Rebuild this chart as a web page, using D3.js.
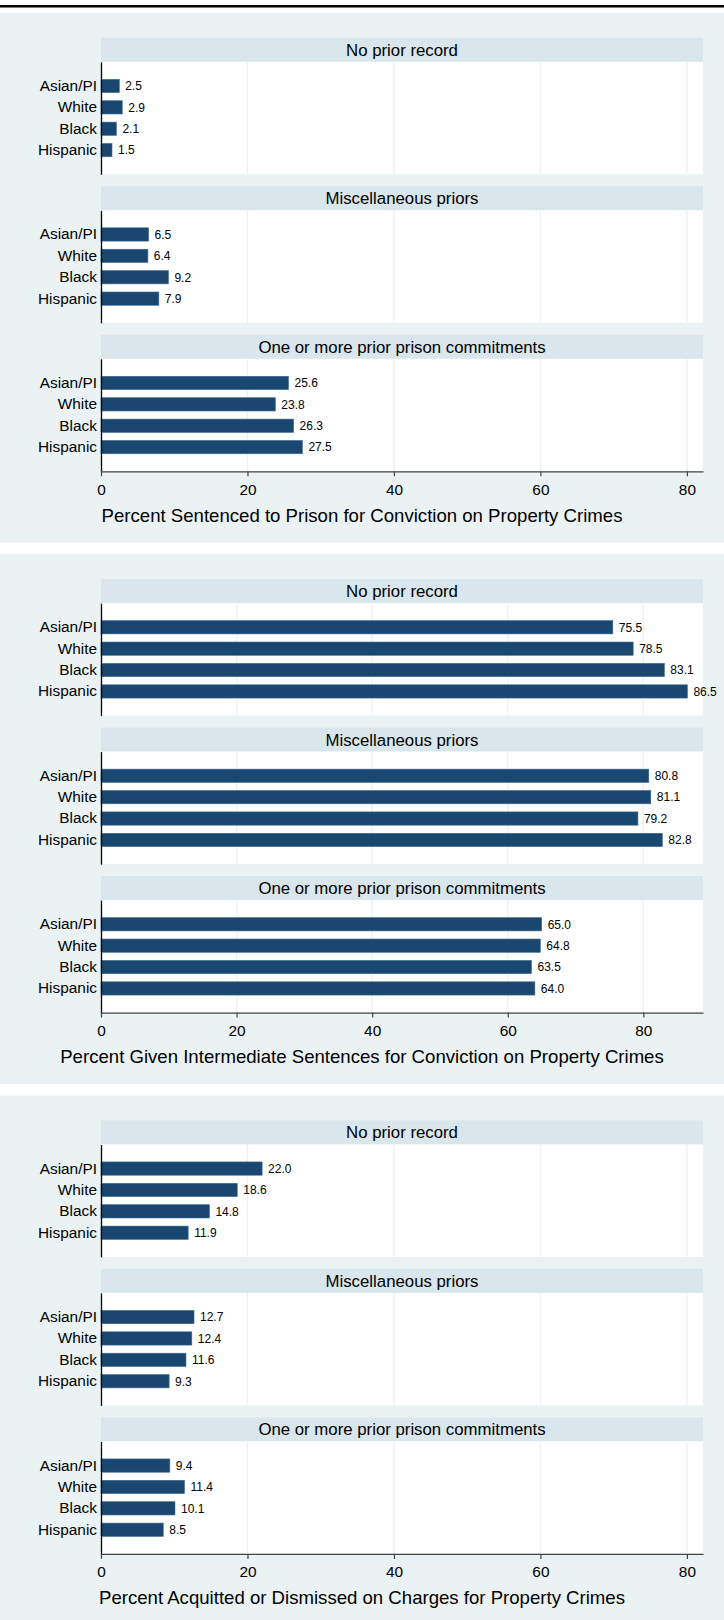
<!DOCTYPE html>
<html>
<head>
<meta charset="utf-8">
<script src="https://cdn.jsdelivr.net/npm/d3@7"></script>
<style>
  body { margin: 0; background: #ffffff; }
  svg { display: block; font-family: "Liberation Sans", Arial, sans-serif; }
</style>
</head>
<body>
<div id="chart-container"></div>
<script>
// categories and panel labels
const races = ['Asian/PI', 'White', 'Black', 'Hispanic'];
const priorGroups = ['No prior record', 'Miscellaneous priors', 'One or more prior prison commitments'];
const xTicks = [0, 20, 40, 60, 80];

// Percent sentenced to prison (one array per prior-record group)
const prisonNoPrior = [2.5, 2.9, 2.1, 1.5];
const prisonMisc = [6.5, 6.4, 9.2, 7.9];
const prisonPrison = [25.6, 23.8, 26.3, 27.5];

// Percent given intermediate sentences
const interNoPrior = [75.5, 78.5, 83.1, 86.5];
const interMisc = [80.8, 81.1, 79.2, 82.8];
const interPrison = [65.0, 64.8, 63.5, 64.0];

// Percent acquitted or dismissed
const acqNoPrior = [22.0, 18.6, 14.8, 11.9];
const acqMisc = [12.7, 12.4, 11.6, 9.3];
const acqPrison = [9.4, 11.4, 10.1, 8.5];

const panelTitles = [
  'Percent Sentenced to Prison for Conviction on Property Crimes',
  'Percent Given Intermediate Sentences for Conviction on Property Crimes',
  'Percent Acquitted or Dismissed on Charges for Property Crimes'
];
const panelMax = [82.2, 88.8, 82.2];

const panels = [
  [prisonNoPrior, prisonMisc, prisonPrison],
  [interNoPrior, interMisc, interPrison],
  [acqNoPrior, acqMisc, acqPrison]
];

const W = 724, H = 1620;
const svg = d3.select('#chart-container').append('svg').attr('width', W).attr('height', H);

// black rule along the top
svg.append('rect').attr('x', 0).attr('y', 5).attr('width', W).attr('height', 2.5).attr('fill', '#000');

const margin = { left: 101, right: 21 };
const panelTop = 13, panelStep = 541.3, panelH = 529.5;
const headerTop = 24.8, subStep = 148.5, headerH = 24, plotH = 112.5;

const yScale = d3.scaleBand().domain(races).range([0, plotH]).paddingInner(0.38).paddingOuter(0.82);
const fmt = d3.format('.1f');

panels.forEach((groups, p) => {
  const g = svg.append('g').attr('transform', `translate(0, ${panelTop + p * panelStep})`);

  // panel background
  g.append('rect').attr('width', W).attr('height', panelH).attr('fill', '#eaf2f3');

  const xScale = d3.scaleLinear().domain([0, panelMax[p]]).range([margin.left, W - margin.right]);

  groups.forEach((values, s) => {
    const top = headerTop + s * subStep;

    // strip header
    g.append('rect')
      .attr('x', margin.left).attr('y', top)
      .attr('width', W - margin.right - margin.left).attr('height', headerH)
      .attr('fill', '#d9e6eb');
    g.append('text')
      .attr('x', (margin.left + W - margin.right) / 2)
      .attr('y', top + headerH / 2)
      .attr('dy', '0.36em')
      .attr('text-anchor', 'middle')
      .attr('font-size', 16.8)
      .text(priorGroups[s]);

    // plot area
    const plot = g.append('g').attr('transform', `translate(0, ${top + headerH})`);
    plot.append('rect')
      .attr('x', margin.left).attr('y', 0)
      .attr('width', W - margin.right - margin.left).attr('height', plotH)
      .attr('fill', '#fff');

    // grid lines
    plot.selectAll('.grid')
      .data(xTicks.filter(d => d > 0))
      .join('line')
      .attr('class', 'grid')
      .attr('x1', d => xScale(d)).attr('x2', d => xScale(d))
      .attr('y1', 0).attr('y2', plotH)
      .attr('stroke', '#eaf2f3').attr('stroke-width', 1.3);

    // bars
    plot.selectAll('.bar')
      .data(values)
      .join('rect')
      .attr('class', 'bar')
      .attr('x', xScale(0))
      .attr('y', (d, i) => yScale(races[i]))
      .attr('width', d => xScale(d) - xScale(0))
      .attr('height', yScale.bandwidth())
      .attr('fill', '#1a476f')
      .attr('stroke', '#3d6890').attr('stroke-width', 0.6);

    // value labels
    plot.selectAll('.val')
      .data(values)
      .join('text')
      .attr('class', 'val')
      .attr('x', d => xScale(d) + 6)
      .attr('y', (d, i) => yScale(races[i]) + yScale.bandwidth() / 2)
      .attr('dy', '0.36em')
      .attr('font-size', 12)
      .text(d => fmt(d));

    // category axis
    const yAxis = plot.append('g')
      .attr('transform', `translate(${margin.left}, 0)`)
      .call(d3.axisLeft(yScale).tickSize(0).tickPadding(4));
    yAxis.select('.domain').attr('stroke', '#000').attr('stroke-width', 1.3);
    yAxis.selectAll('text').attr('font-size', 15.4).attr('fill', '#000');

    // value axis only under the last sub-plot
    if (s === groups.length - 1) {
      const xAxis = plot.append('g')
        .attr('transform', `translate(0, ${plotH})`)
        .call(d3.axisBottom(xScale).tickValues(xTicks).tickSize(5).tickSizeOuter(0).tickPadding(7.5));
      xAxis.select('.domain').attr('stroke', '#444').attr('stroke-width', 1.3);
      xAxis.selectAll('.tick line').attr('stroke', '#444').attr('stroke-width', 1.2);
      xAxis.selectAll('text').attr('font-size', 15.4).attr('fill', '#000');
    }
  });

  // axis title
  g.append('text')
    .attr('x', W / 2)
    .attr('y', 502)
    .attr('dy', '0.36em')
    .attr('text-anchor', 'middle')
    .attr('font-size', 18.6)
    .text(panelTitles[p]);
});
</script>
</body>
</html>
